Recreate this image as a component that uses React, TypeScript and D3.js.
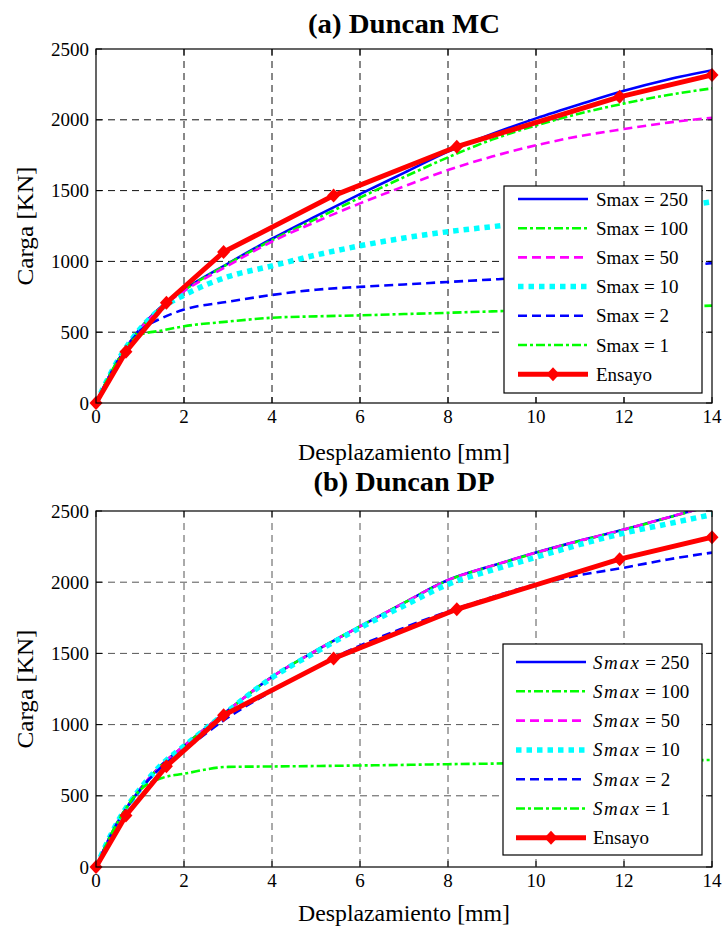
import React from "react";
import * as d3 from "d3";

// ---------- data ----------
const xTicks = [0, 2, 4, 6, 8, 10, 12, 14];
const yTicks = [0, 500, 1000, 1500, 2000, 2500];

const xsModel = [0, 0.5, 1, 1.5, 2, 3, 4, 5, 6, 7, 8, 9, 10, 11, 12, 13, 14];

// (a) Duncan MC
const mc250 = [0, 300, 525, 685, 800, 985, 1160, 1320, 1475, 1625, 1775, 1900, 2010, 2110, 2205, 2285, 2350];
const mc100 = [0, 300, 522, 682, 795, 982, 1150, 1300, 1450, 1595, 1735, 1860, 1960, 2045, 2115, 2175, 2222];
const mc50 = [0, 300, 520, 680, 790, 970, 1140, 1280, 1410, 1530, 1645, 1740, 1820, 1885, 1935, 1980, 2015];
const mc10 = [0, 302, 522, 672, 762, 892, 968, 1045, 1110, 1165, 1210, 1245, 1280, 1310, 1340, 1380, 1420];
const mc2 = [0, 300, 510, 600, 660, 715, 763, 800, 820, 837, 855, 872, 890, 910, 935, 960, 988];
const mc1 = [0, 300, 482, 512, 542, 575, 602, 612, 619, 628, 637, 647, 655, 661, 668, 676, 688];

// (b) Duncan DP
const dp250 = [0, 320, 545, 720, 850, 1100, 1335, 1520, 1690, 1855, 2015, 2115, 2208, 2292, 2370, 2455, 2540];
const dp100 = [0, 320, 545, 720, 850, 1100, 1335, 1520, 1690, 1855, 2013, 2113, 2206, 2290, 2368, 2453, 2538];
const dp50 = [0, 320, 545, 720, 850, 1100, 1335, 1520, 1690, 1855, 2015, 2115, 2208, 2292, 2370, 2455, 2540];
const dp10 = [0, 322, 548, 722, 848, 1095, 1330, 1510, 1680, 1835, 1985, 2085, 2175, 2265, 2345, 2410, 2475];
const dp2 = [0, 318, 540, 705, 820, 1050, 1235, 1405, 1555, 1680, 1795, 1895, 1985, 2050, 2102, 2160, 2208];
const dp1 = [0, 318, 540, 625, 655, 703, 706, 709, 713, 717, 722, 726, 731, 736, 741, 746, 752];

// Ensayo (test)
const ensayoX = [0, 0.68, 1.6, 2.9, 5.4, 8.2, 11.9, 14];
const ensayoY = [0, 362, 708, 1066, 1465, 1810, 2162, 2316];

const legendValues = ["250", "100", "50", "10", "2", "1"];

// ---------- styles ----------
type Style = { color: string; width: number; dash?: string };
const modelStyles: Style[] = [
  { color: "#0000ff", width: 2.6 },
  { color: "#00ff00", width: 2.6, dash: "9,3,3,3" },
  { color: "#ff00ff", width: 2.6, dash: "9,5" },
  { color: "#00ffff", width: 5.5, dash: "5.5,5" },
  { color: "#0000ff", width: 2.6, dash: "9,5" },
  { color: "#00ff00", width: 2.6, dash: "9,3,3,3" },
];

const FONT = "Liberation Serif";

type PanelProps = {
  id: string;
  top: number;
  bottom: number;
  title: string;
  titleY: number;
  titleLen: number;
  tickY: number;
  xlabelY: number;
  models: number[][];
  italic: boolean;
  gridColor: string;
  legend: { x: number; y: number; w: number; h: number; row0: number; step: number; s0: number; s1: number; tx: number };
};

const LEFT = 96;
const RIGHT = 712;

function diamond(cx: number, cy: number, hw = 6.5, hh = 7) {
  return `M${cx},${cy - hh}L${cx + hw},${cy}L${cx},${cy + hh}L${cx - hw},${cy}Z`;
}

function Panel(p: PanelProps) {
  const x = d3.scaleLinear().domain([0, 14]).range([LEFT, RIGHT]);
  const y = d3.scaleLinear().domain([0, 2500]).range([p.bottom, p.top]);
  const smooth = d3
    .line<[number, number]>()
    .x((d) => x(d[0]))
    .y((d) => y(d[1]))
    .curve(d3.curveMonotoneX);
  const straight = d3
    .line<[number, number]>()
    .x((d) => x(d[0]))
    .y((d) => y(d[1]));
  const ens: [number, number][] = ensayoX.map((v, i) => [v, ensayoY[i]]);
  const mid = (p.top + p.bottom) / 2;
  const L = p.legend;
  const txt = { fontFamily: FONT };
  return (
    <g>
      <defs>
        <clipPath id={p.id}>
          <rect x={LEFT} y={p.top} width={RIGHT - LEFT} height={p.bottom - p.top} />
        </clipPath>
      </defs>
      <rect x={LEFT} y={p.top} width={RIGHT - LEFT} height={p.bottom - p.top} fill="#fff" />
      {/* grid */}
      {xTicks.slice(1, -1).map((t) => (
        <line key={"gx" + t} x1={x(t)} x2={x(t)} y1={p.top} y2={p.bottom} stroke={p.gridColor} strokeWidth={1} strokeDasharray="7,5" />
      ))}
      {yTicks.slice(1, -1).map((t) => (
        <line key={"gy" + t} x1={LEFT} x2={RIGHT} y1={y(t)} y2={y(t)} stroke={p.gridColor} strokeWidth={1} strokeDasharray="7,5" />
      ))}
      {/* ticks */}
      {xTicks.map((t) => (
        <g key={"tx" + t}>
          <line x1={x(t)} x2={x(t)} y1={p.bottom} y2={p.bottom - 6} stroke="#000" />
          <line x1={x(t)} x2={x(t)} y1={p.top} y2={p.top + 6} stroke="#000" />
          <text x={x(t)} y={p.tickY} textAnchor="middle" fontSize={19} style={txt}>
            {t}
          </text>
        </g>
      ))}
      {yTicks.map((t) => (
        <g key={"ty" + t}>
          <line x1={LEFT} x2={LEFT + 6} y1={y(t)} y2={y(t)} stroke="#000" />
          <line x1={RIGHT} x2={RIGHT - 6} y1={y(t)} y2={y(t)} stroke="#000" />
          <text x={89} y={y(t) + 6.5} textAnchor="end" fontSize={19} style={txt}>
            {t}
          </text>
        </g>
      ))}
      {/* series */}
      <g clipPath={`url(#${p.id})`}>
        {p.models.map((vals, i) => {
          const pts: [number, number][] = xsModel.map((v, j) => [v, vals[j]]);
          const s = modelStyles[i];
          return (
            <path key={"m" + i} d={smooth(pts) || ""} fill="none" stroke={s.color} strokeWidth={s.width} strokeDasharray={s.dash} />
          );
        })}
        <path d={straight(ens) || ""} fill="none" stroke="#ff0000" strokeWidth={5} strokeLinejoin="round" />
      </g>
      {ens.map((d, i) => (
        <path key={"d" + i} d={diamond(x(d[0]), y(d[1]))} fill="#ff0000" />
      ))}
      {/* frame */}
      <rect x={LEFT} y={p.top} width={RIGHT - LEFT} height={p.bottom - p.top} fill="none" stroke="#000" strokeWidth={1.2} />
      {/* labels */}
      <text x={(LEFT + RIGHT) / 2} y={p.titleY} textAnchor="middle" fontSize={27} fontWeight="bold" style={txt} textLength={p.titleLen} lengthAdjust="spacingAndGlyphs">
        {p.title}
      </text>
      <text x={404} y={p.xlabelY} textAnchor="middle" fontSize={23} style={txt} textLength={212} lengthAdjust="spacingAndGlyphs">
        Desplazamiento [mm]
      </text>
      <text transform={`translate(33,${mid}) rotate(-90)`} textAnchor="middle" fontSize={23} style={txt} textLength={119} lengthAdjust="spacingAndGlyphs">
        Carga [KN]
      </text>
      {/* legend */}
      <rect x={L.x} y={L.y} width={L.w} height={L.h} fill="#fff" stroke="#000" strokeWidth={1.2} />
      {legendValues.map((v, i) => {
        const s = modelStyles[i];
        const ry = L.row0 + i * L.step;
        return (
          <g key={"l" + i}>
            <line x1={L.s0} x2={L.s1} y1={ry} y2={ry} stroke={s.color} strokeWidth={s.width} strokeDasharray={s.dash} />
            <text x={L.tx} y={ry + 6.5} fontSize={19} style={txt}>
              {p.italic ? (
                <>
                  <tspan fontStyle="italic" letterSpacing={1.6}>Smax</tspan>
                  <tspan>{" = " + v}</tspan>
                </>
              ) : (
                "Smax = " + v
              )}
            </text>
          </g>
        );
      })}
      {(() => {
        const ry = L.row0 + 6 * L.step;
        return (
          <g>
            <line x1={L.s0} x2={L.s1} y1={ry} y2={ry} stroke="#ff0000" strokeWidth={5} />
            <path d={diamond((L.s0 + L.s1) / 2, ry)} fill="#ff0000" />
            <text x={L.tx} y={ry + 6.5} fontSize={19} style={txt}>
              Ensayo
            </text>
          </g>
        );
      })()}
    </g>
  );
}

export default function App() {
  return (
    <svg width={723} height={927} style={{ position: "absolute", left: 0, top: 0, background: "#fff" }}>
      <rect x={0} y={0} width={723} height={927} fill="#fff" />
      <Panel
        id="clipA"
        top={49}
        bottom={403}
        title="(a) Duncan MC"
        titleY={33}
        titleLen={192}
        tickY={423}
        xlabelY={460}
        models={[mc250, mc100, mc50, mc10, mc2, mc1]}
        italic={false}
        gridColor="#111"
        legend={{ x: 504, y: 186, w: 198, h: 207, row0: 199, step: 29.2, s0: 518, s1: 588, tx: 596 }}
      />
      <Panel
        id="clipB"
        top={511}
        bottom={867}
        title="(b) Duncan DP"
        titleY={491}
        titleLen={181}
        tickY={887}
        xlabelY={921}
        models={[dp250, dp100, dp50, dp10, dp2, dp1]}
        italic={true}
        gridColor="#555"
        legend={{ x: 503, y: 644, w: 199, h: 211, row0: 662, step: 29.3, s0: 516, s1: 586, tx: 593 }}
      />
    </svg>
  );
}
